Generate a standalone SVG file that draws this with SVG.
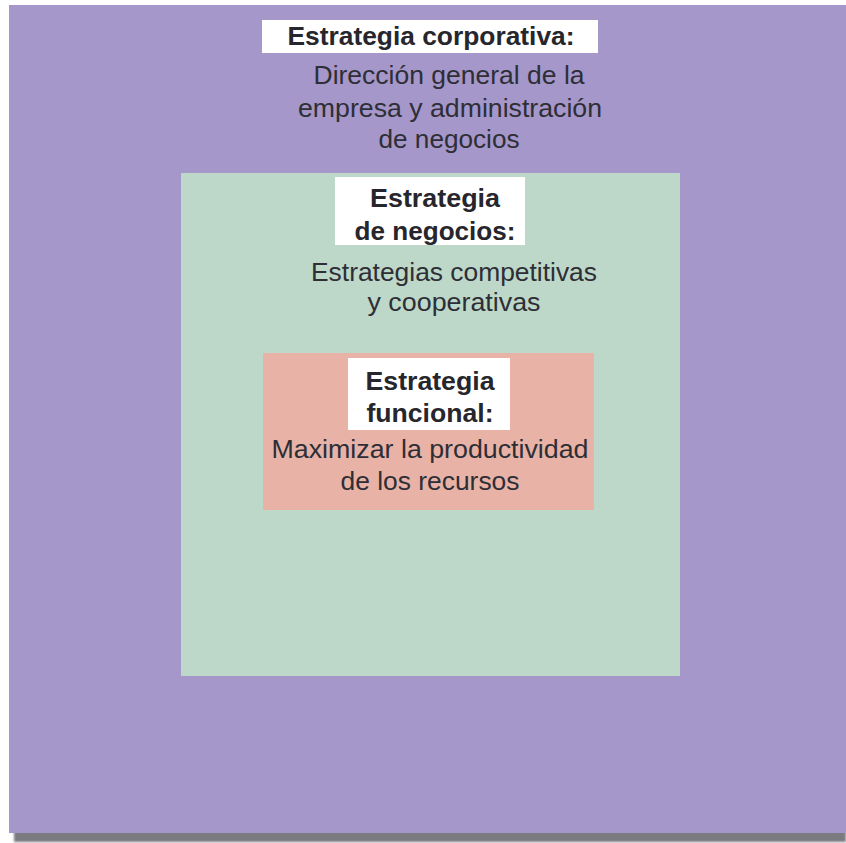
<svg xmlns="http://www.w3.org/2000/svg" width="846" height="843" viewBox="0 0 846 843">
  <style>
    .t { font-family: "Liberation Sans", Arial, sans-serif; font-size: 25px; fill: #2e2e36; text-anchor: middle; }
    .b { font-weight: bold; fill: #26262c; }
    .lbl { fill: #ffffff; }
  </style>
  <defs>
    <filter id="soft" x="-5%" y="-5%" width="110%" height="110%">
      <feGaussianBlur stdDeviation="1.2"/>
    </filter>
  </defs>
  <rect width="846" height="843" fill="#ffffff"/>

  <!-- drop shadow under the outer panel -->
  <rect x="14" y="830" width="832" height="12" fill="#7a7a80" filter="url(#soft)"/>

  <!-- corporate level -->
  <g id="corporativa">
    <rect x="9" y="5" width="837" height="828" fill="#a597c9"/>
    <rect x="262" y="20" width="336" height="33" class="lbl"/>
    <text class="t b" x="431" y="45" textLength="287" lengthAdjust="spacingAndGlyphs">Estrategia corporativa:</text>
    <text class="t" x="449" y="84" textLength="271" lengthAdjust="spacingAndGlyphs">Dirección general de la</text>
    <text class="t" x="450" y="117" textLength="304" lengthAdjust="spacingAndGlyphs">empresa y administración</text>
    <text class="t" x="449" y="148" textLength="141" lengthAdjust="spacingAndGlyphs">de negocios</text>
  </g>

  <!-- business level -->
  <g id="negocios">
    <rect x="181" y="173" width="499" height="503" fill="#bdd8c8"/>
    <rect x="335" y="177" width="190" height="68" class="lbl"/>
    <text class="t b" x="435" y="207" textLength="130" lengthAdjust="spacingAndGlyphs">Estrategia</text>
    <text class="t b" x="435" y="240" textLength="161" lengthAdjust="spacingAndGlyphs">de negocios:</text>
    <text class="t" x="454" y="281" textLength="286" lengthAdjust="spacingAndGlyphs">Estrategias competitivas</text>
    <text class="t" x="454" y="311" textLength="173" lengthAdjust="spacingAndGlyphs">y cooperativas</text>
  </g>

  <!-- functional level -->
  <g id="funcional">
    <rect x="263" y="353" width="331" height="157" fill="#e8b3a6"/>
    <rect x="348" y="358" width="162" height="72" class="lbl"/>
    <text class="t b" x="430" y="390" textLength="129" lengthAdjust="spacingAndGlyphs">Estrategia</text>
    <text class="t b" x="430" y="422" textLength="127" lengthAdjust="spacingAndGlyphs">funcional:</text>
    <text class="t" x="430" y="458" textLength="317" lengthAdjust="spacingAndGlyphs">Maximizar la productividad</text>
    <text class="t" x="430" y="490" textLength="179" lengthAdjust="spacingAndGlyphs">de los recursos</text>
  </g>

  <g id="connectors"/>
</svg>
